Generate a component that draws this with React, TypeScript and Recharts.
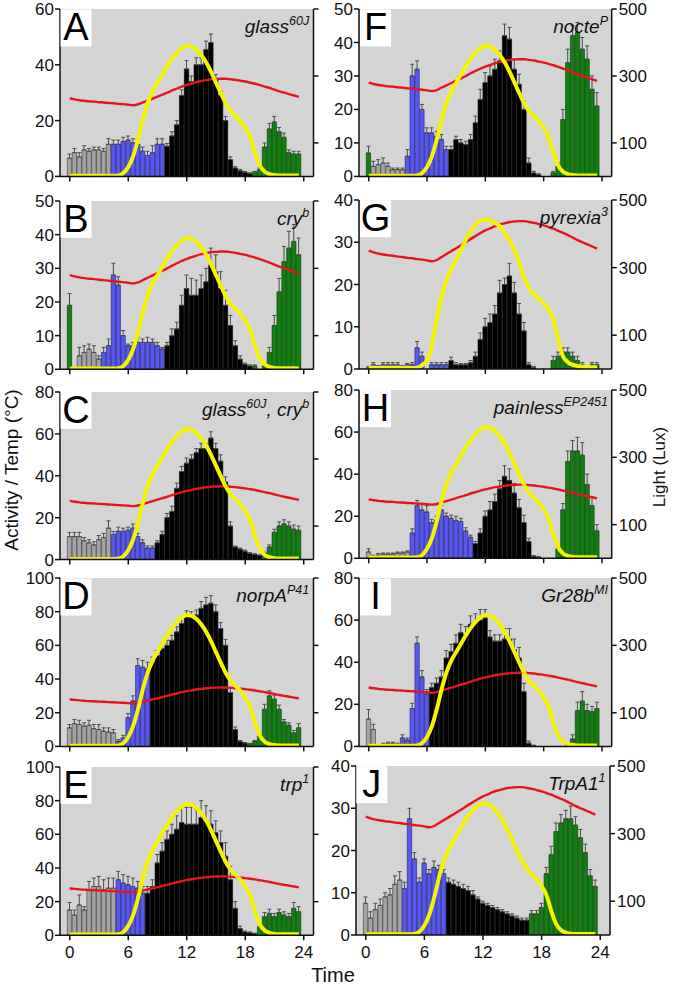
import React from 'react';
import { ComposedChart, Bar, Line, XAxis, YAxis, CartesianGrid, Cell, ErrorBar } from 'recharts';

// ---------- shared time axis / environment ----------
const hours = [0, 0.5, 1, 1.5, 2, 2.5, 3, 3.5, 4, 4.5, 5, 5.5, 6, 6.5, 7, 7.5, 8, 8.5, 9, 9.5, 10, 10.5, 11, 11.5,
  12, 12.5, 13, 13.5, 14, 14.5, 15, 15.5, 16, 16.5, 17, 17.5, 18, 18.5, 19, 19.5, 20, 20.5, 21, 21.5, 22, 22.5, 23, 23.5];
const xTicks = [0, 6, 12, 18, 24];
const luxTicks = [100, 300, 500];

const temperature = [28.0, 27.6, 27.3, 27.1, 26.9, 26.8, 26.6, 26.5, 26.3, 26.2, 26.0, 25.9, 25.7, 25.5, 25.8, 26.5,
  27.2, 27.9, 28.6, 29.3, 30.0, 30.8, 31.5, 32.2, 32.8, 33.3, 33.8, 34.2, 34.5, 34.8, 34.9, 35.0,
  35.0, 34.8, 34.6, 34.3, 34.0, 33.6, 33.2, 32.7, 32.2, 31.7, 31.1, 30.5, 30.0, 29.5, 29.0, 28.5];
const light = [2, 2, 2, 2, 2, 2, 2, 2, 2, 2, 3, 10, 28, 60, 110, 170, 220, 255, 280, 305, 330, 352, 370, 383,
  390, 388, 378, 362, 340, 312, 280, 248, 218, 195, 180, 165, 145, 118, 70, 32, 14, 7, 4, 3, 3, 3, 3, 3];
// the pyrexia recording day had a brighter light profile
const lightG = [3, 3, 3, 3, 3, 3, 3, 3, 3, 3, 4, 12, 25, 70, 150, 215, 264, 296, 325, 352, 383, 408, 427, 439,
  442, 440, 432, 422, 400, 380, 350, 314, 270, 240, 220, 207, 195, 175, 146, 86, 37, 20, 12, 9, 7, 6, 5, 5];

// ---------- panel A: glass60J ----------
const actA = [6.5, 8.5, 7, 9.5, 9, 9.5, 9.5, 9, 11.5,
  11.5, 11.5, 12.5, 13, 12, 11.5, 9, 7.5, 8.5, 11.5, 11.5,
  10.8, 14.5, 18.5, 29, 38.5, 34, 40, 40, 45.5, 48, 35, 29, 20, 6, 3, 2, 1.5, 1,
  1.5, 2.5, 10.5, 17, 19.5, 16, 14, 8.5, 8, 8];
const errA = [1.5, 1.5, 1.5, 1.5, 1, 1, 1, 1, 2,
  1.5, 1.5, 1.5, 1.5, 1.5, 2, 1.5, 1.5, 2.5, 2, 2,
  1, 1.5, 1.5, 2, 3, 2, 2.5, 2.5, 3, 3, 1.5, 1.5, 1.5, 1, 0.5, 0.5, 0.3, 0.3,
  0.3, 0.5, 1.5, 2, 2, 1.5, 1.5, 1, 1, 1];
const phaseA = [['gray', 9], ['blue', 11], ['black', 18], ['green', 10]];

// ---------- panel B: cry b ----------
const actB = [19,
  0, 4, 5, 6, 5, 3,
  5, 7, 28, 25, 10, 7, 7, 8, 8, 8, 8, 7, 6,
  7, 10, 12, 19, 24, 22, 22, 24, 26, 31, 29, 24, 19, 13, 7, 3, 1.5, 1,
  1, 0, 1, 5, 13, 23, 32, 36, 38, 34];
const errB = [3.5,
  0, 2.5, 2, 1.5, 2, 1,
  1.5, 2, 3.5, 2.5, 1.5, 0.5, 1, 1.5, 1, 1.5, 1, 1, 0.5,
  1, 2, 2, 3, 4, 5, 4.5, 4, 4, 5, 5, 5, 4.5, 3, 1.5, 1, 0.3, 0.3,
  0.3, 0, 0.3, 1.5, 3, 4, 4.5, 5, 5, 5];
const phaseB = [['green', 1], ['gray', 6], ['blue', 13], ['black', 18], ['green', 10]];

// ---------- panel C: glass60J, cry b ----------
const actC = [11, 11, 11, 9, 8, 7, 9.5, 10.5, 15,
  12, 13.5, 13.5, 14, 15, 11, 8, 5.5, 5.5,
  8, 12, 20, 23, 34, 42, 46, 48, 51, 53, 53, 58, 53, 47, 37, 16, 6, 5, 4, 3, 2.5, 2,
  3, 6, 13, 16, 17, 16, 14.5, 14];
const errC = [2, 2, 2, 1.5, 1.5, 1.5, 2, 2, 3.5,
  1.5, 2, 1.5, 1.5, 2, 1.5, 1.5, 1, 1,
  1, 1.5, 2, 2.5, 2.5, 2.5, 2.5, 2, 2, 2.5, 2.5, 3, 2.5, 3, 2.5, 2, 0.5, 0.5, 0.5, 0.3, 0.3, 0.3,
  0.5, 1, 1.5, 2, 2, 2, 2, 2];
const phaseC = [['gray', 9], ['blue', 9], ['black', 22], ['green', 8]];

// ---------- panel D: norpA P41 ----------
const actD = [11, 13.5, 13, 12, 12.5, 10.5, 10, 9, 8.5, 8,
  3, 5, 17, 27, 48, 47, 46,
  50, 54, 58, 60, 63, 68, 73, 77, 77, 78, 82, 84, 85, 80, 70, 60, 32, 10, 3, 2,
  1.5, 3, 6, 22, 30, 28, 22, 14.5, 12.5, 8, 11];
const errD = [2, 2.5, 2.5, 2, 3, 2.5, 3, 2, 2.5, 2,
  1, 1.5, 2.5, 3, 4, 4, 4,
  3, 3, 3, 3, 3, 3, 3.5, 3.5, 3, 3, 4, 4.5, 4.5, 4, 3.5, 3.5, 2.5, 1.5, 0.5, 0.3,
  0.3, 0.5, 1, 3, 3, 2.5, 2.5, 1.5, 1.5, 1.5, 2.5];
const phaseD = [['gray', 10], ['blue', 7], ['black', 20], ['green', 11]];

// ---------- panel E: trp1 ----------
const actE = [15, 12, 18, 15, 27, 29, 29, 27, 28, 28,
  33, 31, 30, 29, 28, 25,
  25, 29, 43, 50, 57, 60, 63, 67, 66, 66, 66, 70, 68, 66, 61, 55, 47, 33, 16, 4, 2, 1.5, 1,
  5, 11, 13, 11, 13.5, 12, 11, 16, 14];
const errE = [4.5, 3, 6, 2, 5, 5, 6, 6, 6, 6,
  5, 5, 5, 5, 4, 4,
  4, 4, 5, 5, 5, 6, 8, 9, 10, 10, 9, 10, 9, 8, 7, 7, 8, 8, 4, 1.5, 0.5, 0.5, 0.3,
  1, 2.5, 2.5, 2, 2, 2, 2, 3.5, 3];
const phaseE = [['gray', 10], ['blue', 6], ['black', 23], ['green', 9]];

// ---------- panel F: nocte P ----------
const actF = [7,
  3, 3.5, 4, 3, 2, 2, 2,
  6, 30, 32, 20, 13, 13, 12, 11, 8,
  8, 11, 10, 9.5, 11, 16, 23, 28, 30, 32, 34.5, 42, 41, 32, 27.5, 20, 4, 1, 0.5, 0, 0,
  1, 3, 17, 34, 42, 43, 38, 35, 26, 21];
const errF = [2,
  1.5, 1.5, 1.5, 1, 0.5, 0.5, 0.5,
  2, 3.5, 2.5, 1.5, 1.5, 1.5, 1.5, 1.5, 1,
  1, 1, 1, 1, 1.5, 2, 3, 3, 3, 3, 3, 3.5, 3.5, 3, 3, 2.5, 1.5, 0.5, 0.3, 0, 0,
  0.5, 1, 3, 4, 3, 3, 3.5, 4, 4, 4];
const phaseF = [['green', 1], ['gray', 7], ['blue', 9], ['black', 21], ['green', 10]];

// ---------- panel G: pyrexia 3 ----------
const actG = [0.3, 1, 0.5, 1, 1, 1, 1, 0.5, 1,
  1, 5, 3, 0, 1, 1, 1, 1,
  2, 1, 1, 1, 1.5, 3, 7, 10, 11, 13, 18, 20, 22, 18, 13, 9, 1, 0.3, 0, 0, 0,
  2, 3, 4, 4, 3, 2, 1, 0.3, 1, 1];
const errG = [0.3, 0.5, 0.3, 0.5, 0.5, 0.5, 0.5, 0.3, 0.3,
  0.5, 1.5, 1, 0, 0.5, 0.5, 0.5, 0.5,
  0.8, 0.5, 0.3, 0.3, 0.5, 1, 1.5, 2, 2, 2, 3, 1.5, 3, 2.5, 2.5, 2, 0.5, 0.3, 0, 0, 0,
  1, 1, 1, 1, 1, 1, 0.5, 0.3, 0.5, 0.5];
const phaseG = [['gray', 9], ['blue', 8], ['black', 21], ['green', 10]];

// ---------- panel H: painless EP2451 ----------
const actH = [3, 1, 1.5, 2, 2, 2, 2.5, 2.5, 3,
  12, 25, 23, 22, 17, 18, 23, 20, 19, 18, 17.5, 13, 10,
  7, 12, 20, 23, 27, 33, 39, 37, 31, 24, 17, 8, 1, 0.5, 0, 0, 0,
  4.5, 23, 46, 51, 51, 49, 35, 25, 13];
const errH = [1.5, 0.5, 0.8, 0.5, 0.5, 0.5, 0.5, 0.5, 0.5,
  2, 2.5, 2.5, 3, 1.5, 2, 2, 1.5, 1.5, 2, 1.5, 1.5, 1,
  1, 2, 2.5, 4, 3.5, 4, 5, 5.5, 4.5, 4, 3.5, 1.5, 0.3, 0.3, 0, 0, 0,
  1, 3, 5, 5, 6.5, 6, 5, 4, 3];
const phaseH = [['gray', 9], ['blue', 13], ['black', 17], ['green', 9]];

// ---------- panel I: Gr28b MI ----------
const actI = [13, 8, 0.3, 1, 1.5, 1.5,
  1, 4, 3, 18, 49, 33, 25,
  28, 30, 33, 42, 45, 49, 54, 53, 58, 59, 60, 61, 52, 50, 50, 51, 51, 46, 42, 26, 1.5, 0.3, 0, 0, 0, 0, 0, 0,
  0.5, 3.5, 17, 21.5, 17, 16.5, 18];
const errI = [4.5, 2.5, 0.3, 0.5, 0.5, 0.5,
  0.5, 1.5, 1, 2.5, 3, 3, 2,
  2, 2.5, 3, 3.5, 3.5, 4, 4, 4, 4, 4, 5, 4, 3, 3, 3, 5, 5, 5, 5, 4, 1, 0.3, 0, 0, 0, 0, 0, 0,
  0.3, 2, 4, 4.5, 3, 2.5, 3];
const phaseI = [['gray', 6], ['blue', 7], ['black', 28], ['green', 7]];

// ---------- panel J: TrpA1 1 ----------
const actJ = [7.5, 4, 6, 7, 9, 9.5, 12, 13,
  11, 27.5, 18, 12.5, 17, 14.5, 16, 15.5, 14.5,
  12.5, 12, 11.5, 11, 10.5, 9.5, 8.5, 7.5, 7, 6.5, 6, 5.5, 5, 4.5, 4, 3.5, 3.5,
  5, 5, 6.5, 14.5, 19, 24.5, 26.5, 27.5, 27.5, 26, 23, 19.5, 14, 11.5];
const errJ = [1.5, 1.5, 1.5, 1.5, 1, 1.5, 2, 2,
  1.5, 2.5, 1.5, 1, 1, 1, 1.5, 1, 1,
  1, 1, 1, 1, 1, 1, 0.5, 0.5, 0.5, 0.5, 0.5, 0.5, 0.5, 0.5, 0.5, 0.5, 0.5,
  0.8, 0.8, 1, 1.5, 2, 2, 2, 2, 3, 2, 2, 2, 1.5, 1.5];
const phaseJ = [['gray', 8], ['blue', 9], ['black', 17], ['green', 14]];

// ---------- labels ----------
const genes = {
  A: [['glass', false], ['60J', true]],
  B: [['cry', false], ['b', true]],
  C: [['glass', false], ['60J', true], [', cry', false], ['b', true]],
  D: [['norpA', false], ['P41', true]],
  E: [['trp', false], ['1', true]],
  F: [['nocte', false], ['P', true]],
  G: [['pyrexia', false], ['3', true]],
  H: [['painless', false], ['EP2451', true]],
  I: [['Gr28b', false], ['MI', true]],
  J: [['TrpA1', false], ['1', true]],
};

// ---------- styling / layout ----------
const FONT = "'Liberation Sans', Arial, Helvetica, sans-serif";
const FILL = { gray: '#a4a4a4', blue: '#5858ee', black: '#000000', green: '#118011' };
const STROKE = { gray: '#3c3c3c', blue: '#1c1c70', black: '#000000', green: '#063806' };

const L = { x0: 59.75, x1: 313.25 };
const R = { x0: 359.3, x1: 612 };

const panels = [
  { id: 'A', act: actA, err: errA, phase: phaseA, lux: light, ymax: 60, yticks: [0, 20, 40, 60], ...L, y0: 9.3, y1: 176.7, right: false, showX: false },
  { id: 'B', act: actB, err: errB, phase: phaseB, lux: light, ymax: 50, yticks: [0, 10, 20, 30, 40, 50], ...L, y0: 200.7, y1: 369, right: false, showX: false },
  { id: 'C', act: actC, err: errC, phase: phaseC, lux: light, ymax: 80, yticks: [0, 20, 40, 60, 80], ...L, y0: 391.7, y1: 559.3, right: false, showX: false },
  { id: 'D', act: actD, err: errD, phase: phaseD, lux: light, ymax: 100, yticks: [0, 20, 40, 60, 80, 100], ...L, y0: 578.3, y1: 746.7, right: false, showX: false },
  { id: 'E', act: actE, err: errE, phase: phaseE, lux: light, ymax: 100, yticks: [0, 20, 40, 60, 80, 100], ...L, y0: 766.7, y1: 935, right: false, showX: true },
  { id: 'F', act: actF, err: errF, phase: phaseF, lux: light, ymax: 50, yticks: [0, 10, 20, 30, 40, 50], ...R, y0: 9.3, y1: 176.7, right: true, showX: false },
  { id: 'G', act: actG, err: errG, phase: phaseG, lux: lightG, ymax: 40, yticks: [0, 10, 20, 30, 40], ...R, y0: 200, y1: 369, right: true, showX: false },
  { id: 'H', act: actH, err: errH, phase: phaseH, lux: light, ymax: 80, yticks: [0, 20, 40, 60, 80], ...R, y0: 390, y1: 558.3, right: true, showX: false },
  { id: 'I', act: actI, err: errI, phase: phaseI, lux: light, ymax: 80, yticks: [0, 20, 40, 60, 80], ...R, y0: 578.3, y1: 746.7, right: true, showX: false },
  { id: 'J', act: actJ, err: errJ, phase: phaseJ, lux: light, ymax: 40, yticks: [0, 10, 20, 30, 40], x0: 355.5, x1: 609.5, y0: 766, y1: 935, right: true, showX: true },
];

function expand(runs) {
  const out = [];
  runs.forEach(([name, n]) => { for (let k = 0; k < n; k++) out.push(name); });
  return out;
}

const emptyTick = () => <g />;
const tickStyle = { fill: '#111', fontSize: 17, fontFamily: FONT };
const axisStroke = { stroke: '#111', strokeWidth: 1.5 };

function Panel({ p }) {
  const ML = 50, MR = 50, MT = 12, XH = 32;
  const plotW = p.x1 - p.x0;
  const plotH = p.y1 - p.y0;
  const width = ML + plotW + MR;
  const height = MT + plotH + XH;
  const cats = expand(p.phase);
  const data = hours.map((t, i) => ({
    t,
    act: p.act[i],
    err: [0, p.err[i]],
    temp: temperature[i],
    light: p.lux[i],
    phase: cats[i],
  }));
  const barW = plotW / 26 / 2;
  return (
    <div style={{ position: 'absolute', left: p.x0 - ML, top: p.y0 - MT }}>
      <ComposedChart width={width} height={height} data={data}
        margin={{ top: MT, right: 0, bottom: 0, left: 0 }} barGap={0} barCategoryGap={0}>
        <CartesianGrid yAxisId="left" fill="#d4d4d4" stroke="none" horizontal={false} vertical={false} />
        <XAxis dataKey="t" type="number" domain={[-1, 25]} ticks={xTicks} allowDataOverflow interval={0}
          height={XH} tickSize={5} tickMargin={6} axisLine={axisStroke} tickLine={axisStroke}
          tick={p.showX ? tickStyle : emptyTick} />
        <YAxis yAxisId="left" domain={[0, p.ymax]} ticks={p.yticks} allowDataOverflow interval={0}
          width={ML} tickSize={5} tickMargin={1} axisLine={axisStroke} tickLine={axisStroke} tick={tickStyle} />
        <YAxis yAxisId="right" orientation="right" domain={[0, 500]} ticks={luxTicks} allowDataOverflow interval={0}
          width={MR} tickSize={5} tickMargin={2} axisLine={axisStroke} tickLine={axisStroke}
          tick={p.right ? tickStyle : emptyTick} />
        <Bar yAxisId="left" dataKey="act" barSize={barW} isAnimationActive={false}>
          {data.map((d, i) => (
            <Cell key={i} fill={FILL[d.phase]} stroke={STROKE[d.phase]} strokeWidth={0.6} />
          ))}
          <ErrorBar dataKey="err" direction="y" width={2} stroke="#4a4a4a" strokeWidth={1} />
        </Bar>
        <Line yAxisId="left" dataKey="temp" type="monotone" stroke="#e8141c" strokeWidth={2.4}
          dot={false} activeDot={false} isAnimationActive={false} />
        <Line yAxisId="right" dataKey="light" type="monotone" stroke="#f4f400" strokeWidth={4}
          dot={false} activeDot={false} isAnimationActive={false} />
      </ComposedChart>
    </div>
  );
}

function GeneLabel({ parts, x, y }) {
  let up = false;
  return (
    <text x={x} y={y} textAnchor="end" fontStyle="italic" fontSize={19} fontFamily={FONT} fill="#111">
      {parts.map(([txt, sup], i) => {
        let dy = 0;
        if (sup && !up) { dy = -8; up = true; }
        else if (!sup && up) { dy = 8; up = false; }
        return (
          <tspan key={i} dy={dy} fontSize={sup ? 12.5 : 19}>{txt}</tspan>
        );
      })}
    </text>
  );
}

export default function App() {
  return (
    <div style={{ position: 'absolute', left: 0, top: 0, width: 673, height: 985, background: '#fff', overflow: 'hidden' }}>
      {panels.map((p) => <Panel key={p.id} p={p} />)}
      <svg width={673} height={985} style={{ position: 'absolute', left: 0, top: 0, pointerEvents: 'none' }}>
        {panels.map((p) => (
          <g key={p.id}>
            <rect x={p.x0 + 0.8} y={p.y0 + 0.2} width={31} height={37} fill="#ffffff" />
            <text x={p.x0 + 16.3} y={p.y0 + 31} textAnchor="middle" fontSize={38} fontFamily={FONT} fill="#000">{p.id}</text>
            <GeneLabel parts={genes[p.id]} x={p.x1 - 4} y={p.y0 + 24} />
          </g>
        ))}
        <text transform="translate(17.5,470) rotate(-90)" textAnchor="middle" fontSize={19} fontFamily={FONT} fill="#111">Activity / Temp (°C)</text>
        <text transform="translate(665,467) rotate(-90)" textAnchor="middle" fontSize={17} fontFamily={FONT} fill="#111">Light (Lux)</text>
        <text x={333} y={982} textAnchor="middle" fontSize={20} fontFamily={FONT} fill="#111">Time</text>
      </svg>
    </div>
  );
}
